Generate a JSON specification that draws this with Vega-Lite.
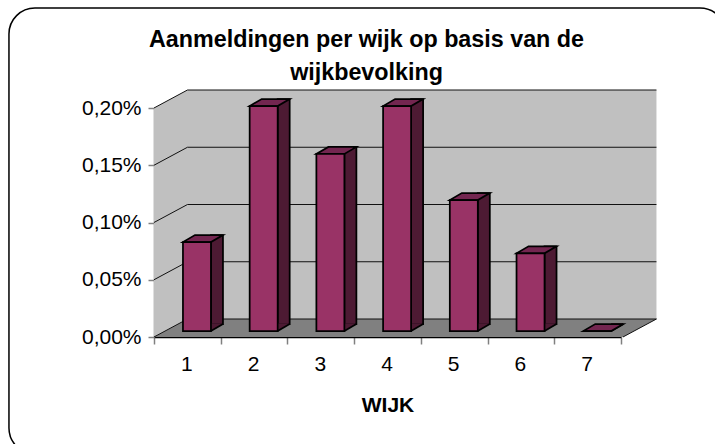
{
  "$schema": "https://vega.github.io/schema/vega-lite/v6.json",
  "width": 467,
  "height": 229,
  "padding": {"left": 154, "top": 108, "right": 94, "bottom": 107},
  "autosize": {"type": "none"},
  "background": "white",
  "config": {"view": {"stroke": null}, "font": "Liberation Sans"},
  "title": {
    "text": ["Aanmeldingen per wijk op basis van de", "wijkbevolking"],
    "font": "Liberation Sans", "fontSize": 23.3, "fontWeight": "bold", "color": "black",
    "lineHeight": 33, "offset": 24, "dx": -21, "dy": 104, "anchor": "middle"
  },
  "datasets": {
    "bars": [
      {"wijk": "1", "aandeel": 0.000777},
      {"wijk": "2", "aandeel": 0.001965},
      {"wijk": "3", "aandeel": 0.001546},
      {"wijk": "4", "aandeel": 0.001965},
      {"wijk": "5", "aandeel": 0.001144},
      {"wijk": "6", "aandeel": 0.000679},
      {"wijk": "7", "aandeel": 0}
    ],
    "ticks": [
      {"wijk": "1", "aandeel": 0},
      {"wijk": "1", "aandeel": 0.0005},
      {"wijk": "1", "aandeel": 0.001},
      {"wijk": "1", "aandeel": 0.0015},
      {"wijk": "1", "aandeel": 0.002}
    ],
    "zero": [
      {"wijk": "1", "aandeel": 0},
      {"wijk": "2", "aandeel": 0},
      {"wijk": "3", "aandeel": 0},
      {"wijk": "4", "aandeel": 0},
      {"wijk": "5", "aandeel": 0},
      {"wijk": "6", "aandeel": 0},
      {"wijk": "7", "aandeel": 0}
    ],
    "origin": [{"wijk": "1", "aandeel": 0}]
  },
  "encoding": {
    "x": {
      "field": "wijk", "type": "nominal", "title": "WIJK",
      "scale": {"type": "band", "paddingInner": 0, "paddingOuter": 0, "domain": ["1", "2", "3", "4", "5", "6", "7"]},
      "axis": {
        "labelAngle": 0, "labelFontSize": 21, "labelFont": "Liberation Sans", "labelColor": "black", "labelPadding": 9, "labelOffset": -1,
        "tickBand": "extent", "tickColor": "#808080", "tickSize": 7, "tickWidth": 1.5,
        "domainColor": "black", "domainWidth": 1.5,
        "titleFontSize": 21, "titleFont": "Liberation Sans", "titleFontWeight": "bold", "titleColor": "black", "titlePadding": 20
      }
    },
    "y": {
      "field": "aandeel", "type": "quantitative", "title": null,
      "scale": {"domain": [0, 0.002]},
      "axis": {
        "values": [0, 0.0005, 0.001, 0.0015, 0.002],
        "labelExpr": "replace(format(datum.value, '.2%'), '.', ',')",
        "labelFontSize": 21, "labelFont": "Liberation Sans", "labelColor": "black", "labelPadding": 7,
        "tickColor": "#808080", "tickSize": 6, "tickWidth": 1.5, "grid": false,
        "domainColor": "#808080", "domainWidth": 1.5
      }
    }
  },
  "layer": [
    {
      "data": {"name": "origin"},
      "mark": {"type": "point", "size": 4, "opacity": 1, "filled": false, "stroke": "black", "strokeWidth": 1.5, "clip": false,
        "shape": "M-178.4 -303 A26 26 0 0 1 -152.4 -329 L512.6 -329 A26 26 0 0 1 538.6 -303 L538.6 91 A26 26 0 0 1 512.6 117 L-152.4 117 A26 26 0 0 1 -178.4 91 Z"}
    },
    {
      "data": {"name": "origin"},
      "mark": {"type": "point", "size": 4, "opacity": 1, "filled": true, "fill": "#c0c0c0", "stroke": null,
        "shape": "M-33.4 -229 L0.1 -247 L469.1 -247 L469.1 -18 L0.1 -18 L-33.4 0 Z"}
    },
    {
      "data": {"name": "origin"},
      "mark": {"type": "point", "size": 4, "opacity": 1, "filled": true, "fill": "#808080", "stroke": null,
        "shape": "M-33.4 0 L0.1 -18 L469.1 -18 L435.6 0 Z"}
    },
    {
      "data": {"name": "ticks"},
      "mark": {"type": "point", "size": 4, "opacity": 1, "filled": false, "stroke": "#111111", "strokeWidth": 1,
        "shape": "M-33.4 0 L0.1 -18 L469.1 -18"}
    },
    {
      "data": {"name": "origin"},
      "mark": {"type": "point", "size": 4, "opacity": 1, "filled": false, "stroke": "#111111", "strokeWidth": 1,
        "shape": "M469.1 -18 L435.6 0"}
    },
    {
      "data": {"name": "bars"},
      "mark": {"type": "bar", "width": 12, "xOffset": 29.6, "x2Offset": 29.6, "yOffset": -13, "y2Offset": -13, "fill": "#4d1a33", "stroke": "black", "strokeWidth": 1.75}
    },
    {
      "data": {"name": "zero"},
      "mark": {"type": "point", "size": 4, "opacity": 1, "filled": true, "fill": "#4d1a33", "stroke": null,
        "shape": "M23.6 -6 L34.8 -12.5 L34.8 -13.8 L23.6 -13.8 Z"}
    },
    {
      "data": {"name": "zero"},
      "mark": {"type": "point", "size": 4, "opacity": 1, "filled": false, "stroke": "black", "strokeWidth": 1.75,
        "shape": "M23.6 -6 L35.6 -13"}
    },
    {
      "data": {"name": "bars"},
      "mark": {"type": "point", "size": 4, "opacity": 1, "filled": true, "fill": "#732650", "stroke": "black", "strokeWidth": 1.75,
        "shape": "M-4.4 -6 L23.6 -6 L35.6 -13 L7.6 -13 Z"}
    },
    {
      "data": {"name": "bars"},
      "mark": {"type": "bar", "width": 28, "xOffset": 9.6, "x2Offset": 9.6, "yOffset": -6, "y2Offset": -6, "fill": "#993366", "stroke": "black", "strokeWidth": 1.75}
    }
  ]
}
